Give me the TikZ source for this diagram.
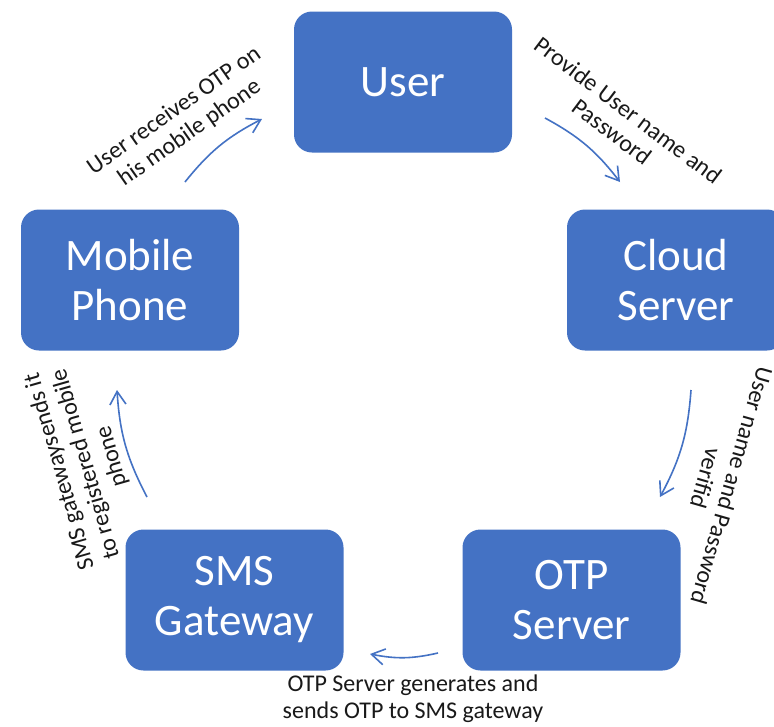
\documentclass[tikz,border=0pt]{standalone}
\usepackage{fontspec}
\setmainfont{Carlito}
\usetikzlibrary{arrows.meta}
\definecolor{boxblue}{HTML}{4472C4}
\begin{document}
\begin{tikzpicture}[x=1pt,y=-1pt,
  box/.style={fill=boxblue, draw=none, rounded corners=18pt,
    minimum width=218pt, minimum height=141pt, inner sep=0pt,
    text=white, align=center, font=\fontsize{45}{50}\selectfont},
  lbl/.style={inner sep=0pt, align=center, text=black!90,
    font=\fontsize{24}{27}\selectfont},
  flow/.style={draw=boxblue, line width=1.6pt, bend left=12,
    -{Straight Barb[length=13pt,width=16pt,line width=1.6pt]}}
]
\clip (0,0) rectangle (774,726);
\fill[white] (0,0) rectangle (774,726);

% stages of the login flow
\node[box] (user)   at (403,82)    {User};
\node[box] (cloud)  at (676,280)   {Cloud\\Server};
\node[box] (mobile) at (130,280)   {Mobile\\Phone};
\node[box] (sms)    at (234.5,600) {SMS\\Gateway};
\node[box] (otp)    at (571.5,600) {OTP\\Server};

% step descriptions
\node[lbl, rotate=35]   (l1) at (182,122) {User receives OTP on\\his mobile phone};
\node[lbl, rotate=-37]  (l2) at (620,121) {Provide User name and\\Password};
\node[lbl, rotate=-106] (l3) at (719,482) {User name and Password\\verifid};
\node[lbl]              (l4) at (413,699) {OTP Server generates and\\sends OTP to SMS gateway};
\node[lbl, rotate=106]  (l5) at (86,464)  {SMS gatewaysends it\\to registered mobile\\phone};

% arrow end points
\coordinate (a1s) at (185,182); \coordinate (a1e) at (262,119);
\coordinate (a2s) at (545,118); \coordinate (a2e) at (620,182);
\coordinate (a3s) at (691,390); \coordinate (a3e) at (660,497);
\coordinate (a4s) at (438,653); \coordinate (a4e) at (370,654);
\coordinate (a5s) at (147,497); \coordinate (a5e) at (117,390);

\draw[flow] (a1s) to (a1e);
\draw[flow] (a2s) to (a2e);
\draw[flow] (a3s) to (a3e);
\draw[flow] (a4s) to (a4e);
\draw[flow] (a5s) to (a5e);
\end{tikzpicture}
\end{document}
